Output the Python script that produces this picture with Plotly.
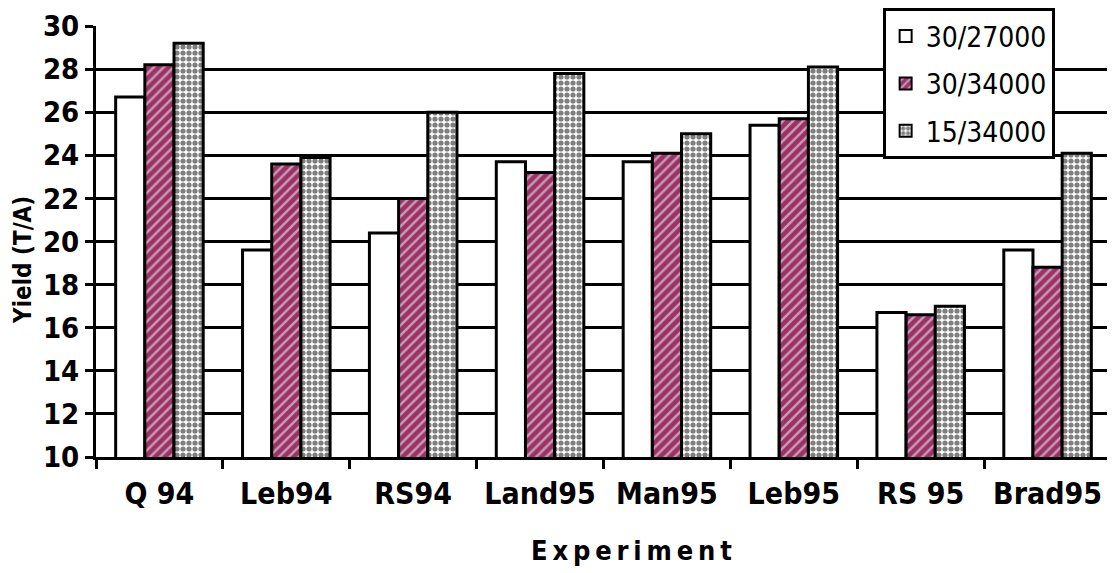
import plotly.graph_objects as go

categories = ["Q 94", "Leb94", "RS94", "Land95", "Man95", "Leb95", "RS 95", "Brad95"]
series_names = ["30/27000", "30/34000", "15/34000"]
s1 = [26.7, 19.6, 20.4, 23.7, 23.7, 25.4, 16.7, 19.6]
s2 = [28.2, 23.6, 22.0, 23.2, 24.1, 25.7, 16.6, 18.8]
s3 = [29.2, 23.9, 26.0, 27.8, 25.0, 28.1, 17.0, 24.1]
y_ticks = [10, 12, 14, 16, 18, 20, 22, 24, 26, 28, 30]
x_title = "\u2009".join("Experiment")
y_title = "Yield (T/A)"

font_fam = "DejaVu Sans Condensed, Liberation Sans Narrow, DejaVu Sans, sans-serif"

fig = go.Figure()
fig.add_bar(x=categories, y=s1, name=series_names[0], legendgroup="a",
            marker=dict(color="white", line=dict(color="black", width=3)))
fig.add_bar(x=categories, y=s2, name=series_names[1], legendgroup="b",
            marker=dict(color="#993366", line=dict(color="black", width=3),
                        pattern=dict(shape="/", bgcolor="#993366", fgcolor="white",
                                     size=7, solidity=0.35)))
fig.add_bar(x=categories, y=s3, name=series_names[2], legendgroup="c",
            marker=dict(color="white", line=dict(color="black", width=3),
                        pattern=dict(shape=".", bgcolor="white", fgcolor="black",
                                     size=6, solidity=0.6)))

fig.update_layout(
    width=1107, height=565,
    margin=dict(l=88, r=4, t=18, b=116, autoexpand=False),
    paper_bgcolor="white", plot_bgcolor="white",
    barmode="group", bargap=0.31, bargroupgap=0,
    font=dict(family=font_fam, color="black"),
    showlegend=True,
    legend=dict(x=0.775, y=1.041, xanchor="left", yanchor="top",
                bgcolor="white", bordercolor="black", borderwidth=3,
                font=dict(family=font_fam, size=28, color="black"),
                tracegroupgap=8, itemsizing="constant"),
    xaxis=dict(
        type="category", automargin=False,
        showline=True, linecolor="black", linewidth=3,
        ticks="outside", tickson="boundaries", ticklen=9, tickwidth=3, tickcolor="black",
        tickangle=0, ticklabelstandoff=8,
        tickfont=dict(family=font_fam, size=30, color="black", weight="bold"),
        showgrid=False,
    ),
    yaxis=dict(
        range=[10, 30], tickvals=y_ticks, automargin=False,
        showline=True, linecolor="black", linewidth=3,
        ticks="outside", ticklen=8, tickwidth=3, tickcolor="black",
        showgrid=True, gridcolor="black", gridwidth=3,
        tickfont=dict(family=font_fam, size=29, color="black", weight="bold"),
        zeroline=False,
    ),
    annotations=[
        dict(text=x_title, xref="paper", yref="paper", x=0.528, y=-0.216,
             xanchor="center", yanchor="middle", showarrow=False,
             font=dict(family=font_fam, size=27, color="black", weight="bold")),
        dict(text=y_title, xref="paper", yref="paper", x=-0.072, y=0.457,
             xanchor="center", yanchor="middle", showarrow=False, textangle=-90,
             font=dict(family=font_fam, size=24, color="black", weight="bold")),
    ],
)

fig.write_html("out.html")
